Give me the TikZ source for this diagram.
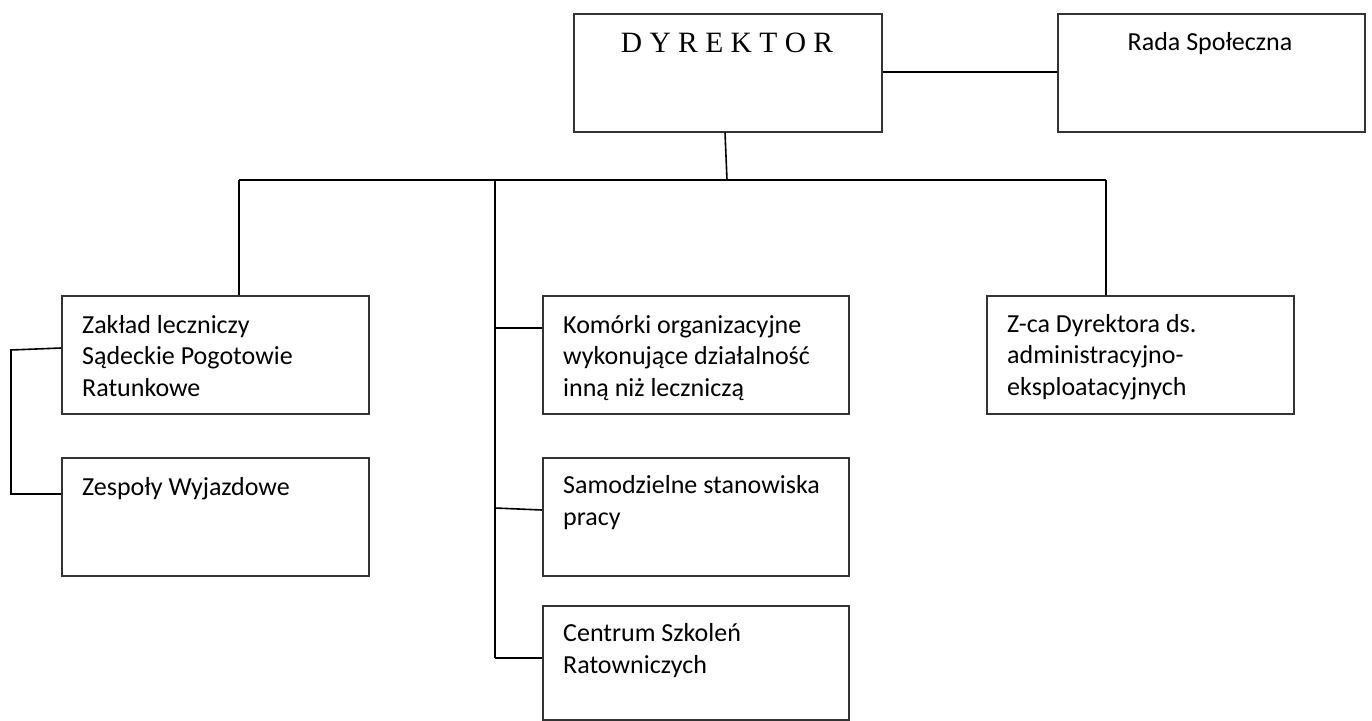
\documentclass[tikz,border=0pt]{standalone}
\usepackage{fontspec}
\setmainfont{Carlito}
\newfontfamily\timesfont{Liberation Serif}
\begin{document}
\begin{tikzpicture}[x=1pt,y=-1pt,
  orgbox/.style={draw=black!80, line width=1.5pt, inner sep=0pt, anchor=north west},
  lbl/.style={anchor=base west, align=left, inner sep=0pt, font=\fontsize{26}{31.5}\selectfont},
  clbl/.style={anchor=base, inner sep=0pt, font=\fontsize{26}{31}\selectfont},
  link/.style={draw=black, line width=1.6pt}]
\useasboundingbox[fill=white] (0,0) rectangle (1372,720);
% boxes
\node[orgbox, minimum width=308pt, minimum height=118pt] (dir) at (573,13) {};
\node[orgbox, minimum width=307pt, minimum height=118pt] (rada) at (1057,13) {};
\node[orgbox, minimum width=307pt, minimum height=118pt] (zl) at (61,295) {};
\node[orgbox, minimum width=307pt, minimum height=118pt] (zw) at (61,457) {};
\node[orgbox, minimum width=306pt, minimum height=118pt] (ko) at (542,295) {};
\node[orgbox, minimum width=306pt, minimum height=118pt] (sa) at (542,457) {};
\node[orgbox, minimum width=306pt, minimum height=114pt] (ce) at (542,605) {};
\node[orgbox, minimum width=307pt, minimum height=118pt] (zc) at (986,295) {};
% texts (base anchor = baseline of the last line)
\node[clbl, font=\timesfont\fontsize{29.5}{34}\selectfont] (tdir) at (727,52) {D Y R E K T O R};
\node[clbl] (trada) at (1210,50) {Rada Społeczna};
\node[lbl] (tzl) at (82,396) {Zakład leczniczy\\Sądeckie Pogotowie\\Ratunkowe};
\node[lbl] (tzw) at (82,495) {Zespoły Wyjazdowe};
\node[lbl] (tko) at (563,396) {Komórki organizacyjne\\wykonujące działalność\\inną niż leczniczą};
\node[lbl] (tsa) at (563,525) {Samodzielne stanowiska\\pracy};
\node[lbl] (tce) at (563,673) {Centrum Szkoleń\\Ratowniczych};
\node[lbl] (tzc) at (1007,395) {Z-ca Dyrektora ds.\\administracyjno-\\eksploatacyjnych};
% coordinates
\coordinate (busL) at (239,180);
\coordinate (busR) at (1106,180);
\coordinate (busD) at (727,180);
\coordinate (busM) at (495,180);
\coordinate (mKo) at (495,328);
\coordinate (mSa) at (495,508);
\coordinate (mCe) at (495,658);
\coordinate (bT) at (11,350);
\coordinate (bB) at (11,494);
% connectors
\draw[link] (dir.east |- 0,72) -- (rada.west |- 0,72);
\draw[link] (dir.south -| 725,0) -- (busD);
\draw[link] (busL) -- (busR);
\draw[link] (busL) -- (zl.north -| busL);
\draw[link] (busR) -- (zc.north -| busR);
\draw[link] (busM) -- (mCe);
\draw[link] (mKo) -- (ko.west |- mKo);
\draw[link] (mSa) -- (sa.west |- 0,510);
\draw[link] (mCe) -- (ce.west |- mCe);
\draw[link] (zl.west |- 0,348) -- (bT) -- (bB) -- (zw.west |- bB);
\end{tikzpicture}
\end{document}
